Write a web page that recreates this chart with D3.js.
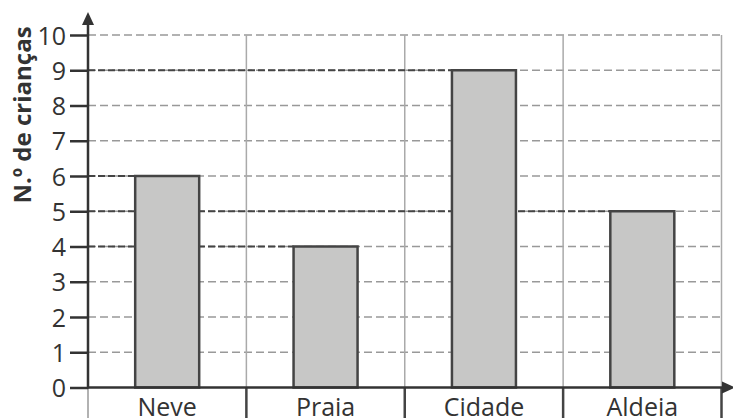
<!DOCTYPE html>
<html>
<head>
<meta charset="utf-8">
<script src="https://cdn.jsdelivr.net/npm/d3@7"></script>
<style>
  body { margin: 0; background: #fff; }
  svg text { font-family: "Open Sans", "Noto Sans", sans-serif; fill: #333; }
</style>
</head>
<body>
<script>
  // data
  var categories = ['Neve', 'Praia', 'Cidade', 'Aldeia'];
  var values = [6, 4, 9, 5];
  var yTicks = [0, 1, 2, 3, 4, 5, 6, 7, 8, 9, 10];

  var width = 733, height = 418;
  var plotL = 88, plotR = 721.5, plotT = 35, plotB = 387.5;

  var svg = d3.select('body').append('svg')
    .attr('width', width)
    .attr('height', height);

  var x = d3.scaleBand().domain(categories).range([plotL, plotR]);
  var y = d3.scaleLinear().domain([0, 10]).range([plotB, plotT]);
  var barW = 64;

  // light horizontal grid
  svg.append('g').selectAll('line')
    .data(yTicks.slice(1))
    .enter().append('line')
    .attr('x1', plotL).attr('x2', plotR)
    .attr('y1', function(d){ return y(d); })
    .attr('y2', function(d){ return y(d); })
    .attr('stroke', '#999')
    .attr('stroke-width', 1.5)
    .attr('stroke-dasharray', '8,4');

  // vertical separators
  var seps = [plotL].concat(categories.map(function(c){ return x(c) + x.bandwidth(); }));
  svg.append('g').selectAll('line')
    .data(seps.slice(1))
    .enter().append('line')
    .attr('x1', function(d){ return d; }).attr('x2', function(d){ return d; })
    .attr('y1', plotT).attr('y2', plotB)
    .attr('stroke', '#aaa')
    .attr('stroke-width', 1.5);

  // ticks under the axis
  svg.append('g').selectAll('line')
    .data(seps)
    .enter().append('line')
    .attr('x1', function(d){ return d; }).attr('x2', function(d){ return d; })
    .attr('y1', plotB).attr('y2', height)
    .attr('stroke', function(d, i){ return i === 0 ? '#999' : '#444'; })
    .attr('stroke-width', function(d, i){ return i === 0 ? 1.5 : 2.5; });

  // dark reference lines from axis to bar tops
  svg.append('g').selectAll('line')
    .data(values)
    .enter().append('line')
    .attr('x1', plotL)
    .attr('x2', function(d, i){ return x(categories[i]) + x.bandwidth() / 2 - barW / 2; })
    .attr('y1', function(d){ return y(d); })
    .attr('y2', function(d){ return y(d); })
    .attr('stroke', '#444')
    .attr('stroke-width', 1.8)
    .attr('stroke-dasharray', '7,3');

  // bars
  svg.append('g').selectAll('rect')
    .data(values)
    .enter().append('rect')
    .attr('x', function(d, i){ return x(categories[i]) + x.bandwidth() / 2 - barW / 2; })
    .attr('y', function(d){ return y(d); })
    .attr('width', barW)
    .attr('height', function(d){ return plotB - y(d); })
    .attr('fill', '#c7c7c6')
    .attr('stroke', '#444')
    .attr('stroke-width', 2.5);

  // y axis
  var yAxis = d3.axisLeft(y).tickValues(yTicks).tickSize(18).tickPadding(4);
  var gy = svg.append('g')
    .attr('transform', 'translate(' + plotL + ',0)')
    .call(yAxis);
  gy.select('.domain').remove();
  gy.selectAll('.tick line').attr('stroke', '#333').attr('stroke-width', 2.5);
  gy.selectAll('.tick text')
    .attr('font-size', 25)
    .attr('font-family', '"Open Sans", "Noto Sans", sans-serif')
    .attr('fill', '#333')
    .attr('dy', '0.36em');

  svg.append('line')
    .attr('x1', plotL).attr('x2', plotL)
    .attr('y1', plotB + 1).attr('y2', 22)
    .attr('stroke', '#333').attr('stroke-width', 2.5);
  svg.append('path')
    .attr('d', 'M' + plotL + ',12 L' + (plotL - 6) + ',25 L' + (plotL + 6) + ',25 Z')
    .attr('fill', '#333');

  // x axis
  svg.append('line')
    .attr('x1', plotL - 1).attr('x2', 724)
    .attr('y1', plotB).attr('y2', plotB)
    .attr('stroke', '#333').attr('stroke-width', 2.5);
  svg.append('path')
    .attr('d', 'M735,' + plotB + ' L722,' + (plotB - 6) + ' L722,' + (plotB + 6) + ' Z')
    .attr('fill', '#333');

  // category labels
  svg.append('g').selectAll('text')
    .data(categories)
    .enter().append('text')
    .attr('x', function(d){ return x(d) + x.bandwidth() / 2; })
    .attr('y', 416)
    .attr('text-anchor', 'middle')
    .attr('font-size', 25)
    .text(function(d){ return d; });

  // y title
  svg.append('text')
    .attr('transform', 'translate(31,115) rotate(-90)')
    .attr('text-anchor', 'middle')
    .attr('font-size', 24)
    .attr('font-weight', 'bold')
    .text('N.º de crianças');
</script>
</body>
</html>
